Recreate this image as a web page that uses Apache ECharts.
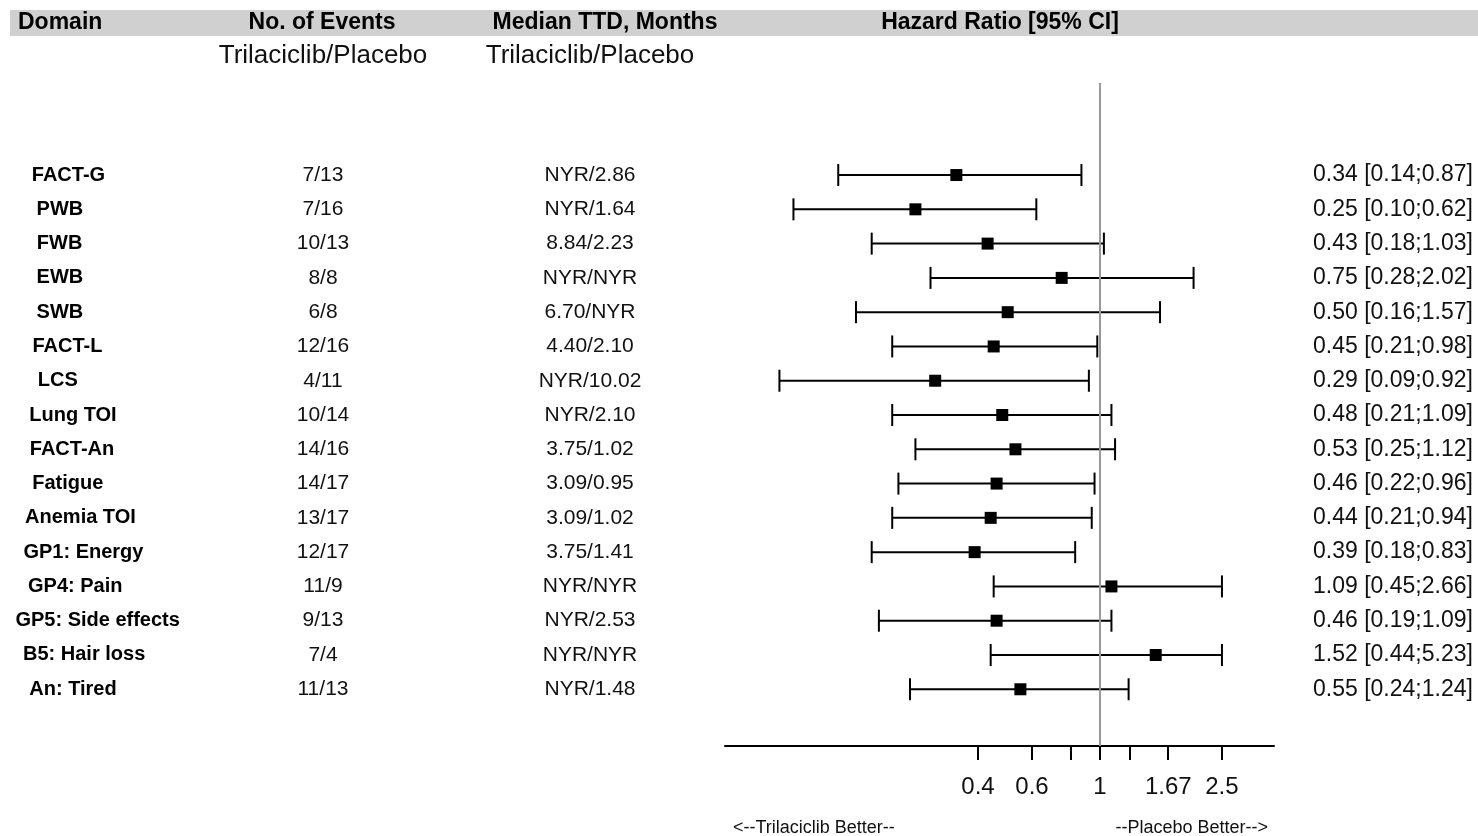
<!DOCTYPE html>
<html>
<head>
<meta charset="utf-8">
<script src="https://cdn.jsdelivr.net/npm/echarts@6.0.0/dist/echarts.min.js"></script>
<style>
html,body{margin:0;padding:0;background:#fff;}
#chart{width:1478px;height:836px;}
</style>
</head>
<body>
<div id="chart"></div>
<script>
// ---- data ----
const domains = ['FACT-G','PWB','FWB','EWB','SWB','FACT-L','LCS','Lung TOI','FACT-An','Fatigue','Anemia TOI','GP1: Energy','GP4: Pain','GP5: Side effects','B5: Hair loss','An: Tired'];
const events = ['7/13','7/16','10/13','8/8','6/8','12/16','4/11','10/14','14/16','14/17','13/17','12/17','11/9','9/13','7/4','11/13'];
const medianTTD = ['NYR/2.86','NYR/1.64','8.84/2.23','NYR/NYR','6.70/NYR','4.40/2.10','NYR/10.02','NYR/2.10','3.75/1.02','3.09/0.95','3.09/1.02','3.75/1.41','NYR/NYR','NYR/2.53','NYR/NYR','NYR/1.48'];
const hr    = [0.34,0.25,0.43,0.75,0.50,0.45,0.29,0.48,0.53,0.46,0.44,0.39,1.09,0.46,1.52,0.55];
const lower = [0.14,0.10,0.18,0.28,0.16,0.21,0.09,0.21,0.25,0.22,0.21,0.18,0.45,0.19,0.44,0.24];
const upper = [0.87,0.62,1.03,2.02,1.57,0.98,0.92,1.09,1.12,0.96,0.94,0.83,2.66,1.09,5.23,1.24];
const tickValues  = [0.4,0.6,0.8,1,1.25,1.67,2.5];
const labelValues = [0.4,0.6,1,1.67,2.5];
const ciClipMax = 2.5;   // whiskers are truncated at the last labelled tick
const axisRange = [0.0598, 3.696];

// ---- helpers ----
const FONT = '"Liberation Sans", Arial, sans-serif';
const L = Math.log10;
const rows = domains.map((d, i) => i);
const hrText = hr.map((h, i) => h.toFixed(2) + ' [' + lower[i].toFixed(2) + ';' + upper[i].toFixed(2) + ']');

const mctx = document.createElement('canvas').getContext('2d');
mctx.font = 'bold 20px ' + FONT;
function textW(s){ return mctx.measureText(s).width; }

const GRID = {left: 725, right: 204, top: 83, bottom: 90};
const yMin = -2.685, yMax = 16.655;

function textAxis(pos, offset, arr, align, size) {
  return {
    type: 'value', position: pos, offset: offset, min: yMin, max: yMax, inverse: true,
    axisLine: {show: false}, axisTick: {show: false}, splitLine: {show: false},
    axisLabel: {
      customValues: rows, margin: 0, align: align, color: '#111', fontSize: size, fontFamily: FONT,
      formatter: v => arr[Math.round(v)]
    }
  };
}

const chart = echarts.init(document.getElementById('chart'), null, {renderer: 'canvas'});
const option = {
  animation: false,
  backgroundColor: '#fff',
  grid: GRID,
  xAxis: {
    type: 'value', min: L(axisRange[0]), max: L(axisRange[1]),
    axisLine: {show: true, onZero: false, lineStyle: {color: '#000', width: 2}},
    axisTick: {show: true, customValues: tickValues.map(L), length: 14, lineStyle: {color: '#000', width: 2}},
    axisLabel: {
      customValues: labelValues.map(L), margin: 29, fontSize: 24, color: '#111', fontFamily: FONT,
      formatter: v => String(parseFloat(Math.pow(10, v).toFixed(2)))
    },
    splitLine: {show: false}
  },
  yAxis: [
    {type: 'value', min: yMin, max: yMax, inverse: true, show: false},
    textAxis('left', 725 - 323, events, 'center', 21),
    textAxis('left', 725 - 590, medianTTD, 'center', 21),
    textAxis('right', 1313 - 1274, hrText, 'left', 23)
  ],
  series: [
    {
      type: 'custom', name: 'CI', clip: false,
      data: rows.map(i => [L(lower[i]), L(Math.min(upper[i], ciClipMax)), i]),
      renderItem: function(params, api) {
        const a = api.coord([api.value(0), api.value(2)]);
        const b = api.coord([api.value(1), api.value(2)]);
        const h = 11;
        const st = {stroke: '#000', lineWidth: 2};
        return {type: 'group', children: [
          {type: 'line', shape: {x1: a[0], y1: a[1], x2: b[0], y2: b[1]}, style: st},
          {type: 'line', shape: {x1: a[0], y1: a[1] - h, x2: a[0], y2: a[1] + h}, style: st},
          {type: 'line', shape: {x1: b[0], y1: b[1] - h, x2: b[0], y2: b[1] + h}, style: st}
        ]};
      },
      markLine: {
        silent: true, symbol: ['none', 'none'], label: {show: false},
        lineStyle: {color: '#999', width: 2, type: 'solid'},
        data: [{xAxis: L(1)}]
      }
    },
    {
      type: 'scatter', name: 'HR', symbol: 'rect', symbolSize: 12,
      itemStyle: {color: '#000', opacity: 1},
      data: rows.map(i => [L(hr[i]), i]), z: 5
    },
    {
      type: 'custom', name: 'Domain', clip: false,
      data: rows.map(i => [0, i]),
      renderItem: function(params, api) {
        const i = Math.round(api.value(1));
        const p = api.coord([0, i]);
        const s = domains[i];
        return {type: 'text', style: {
          text: s, x: 45 - 0.18 * textW(s), y: p[1],
          textAlign: 'left', textVerticalAlign: 'middle',
          font: 'bold 20px ' + FONT, fill: '#000'
        }};
      }
    }
  ],
  graphic: [
    {type: 'rect', shape: {x: 10, y: 10, width: 1468, height: 26}, style: {fill: '#d0d0d0'}, z: -1},
    {type: 'text', x: 18, y: 23, style: {text: 'Domain', font: 'bold 23px ' + FONT, fill: '#000', textAlign: 'left', textVerticalAlign: 'middle'}},
    {type: 'text', x: 322, y: 23, style: {text: 'No. of Events', font: 'bold 23px ' + FONT, fill: '#000', textAlign: 'center', textVerticalAlign: 'middle'}},
    {type: 'text', x: 605, y: 23, style: {text: 'Median TTD, Months', font: 'bold 23px ' + FONT, fill: '#000', textAlign: 'center', textVerticalAlign: 'middle'}},
    {type: 'text', x: 1000, y: 23, style: {text: 'Hazard Ratio [95% CI]', font: 'bold 23px ' + FONT, fill: '#000', textAlign: 'center', textVerticalAlign: 'middle'}},
    {type: 'text', x: 323, y: 56, style: {text: 'Trilaciclib/Placebo', font: '26px ' + FONT, fill: '#111', textAlign: 'center', textVerticalAlign: 'middle'}},
    {type: 'text', x: 590, y: 56, style: {text: 'Trilaciclib/Placebo', font: '26px ' + FONT, fill: '#111', textAlign: 'center', textVerticalAlign: 'middle'}},
    {type: 'text', x: 733, y: 828, style: {text: '<--Trilaciclib Better--', font: '18px ' + FONT, fill: '#111', textAlign: 'left', textVerticalAlign: 'middle'}},
    {type: 'text', x: 1268, y: 828, style: {text: '--Placebo Better-->', font: '18px ' + FONT, fill: '#111', textAlign: 'right', textVerticalAlign: 'middle'}}
  ]
};
chart.setOption(option);
</script>
</body>
</html>
